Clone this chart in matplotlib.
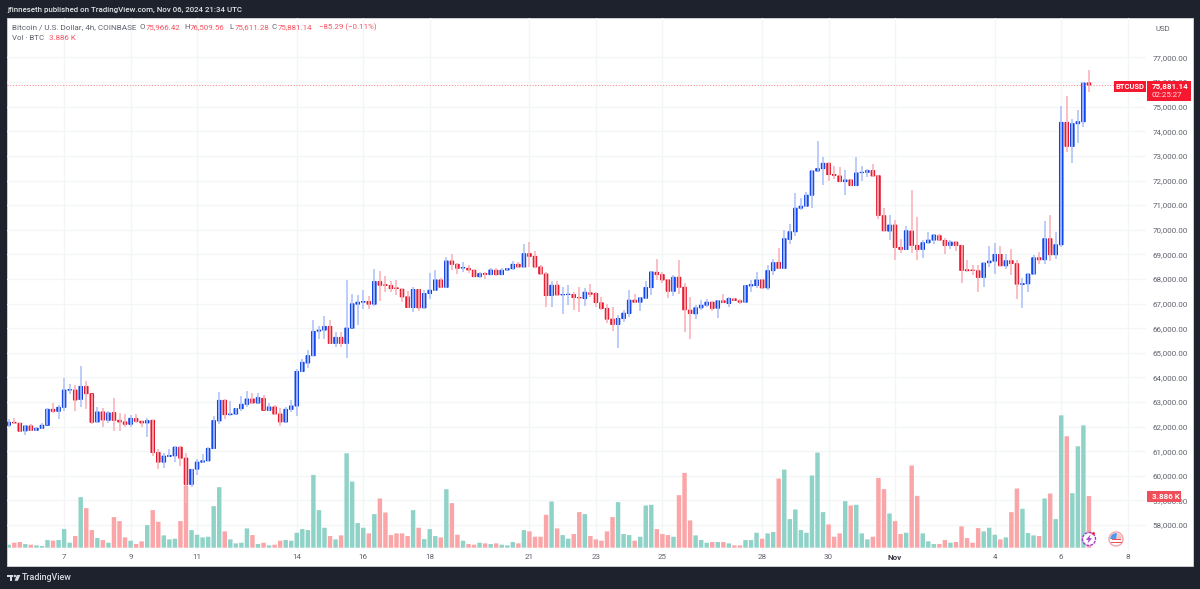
import matplotlib
matplotlib.use("Agg")
import matplotlib.pyplot as plt
from matplotlib.patches import Circle, Polygon, Rectangle, Wedge
import numpy as np

# BTCUSD 4h candles, Coinbase
opens = [
    62054, 62175, 62135, 61824, 62027, 61851, 61932, 62054, 62702, 62621,
    62783, 63485, 63485, 63107, 63633, 63336, 62189, 62594, 62256, 62567,
    62256, 62189, 62094, 62324, 62216, 62148, 62256, 60947, 60556, 60785,
    60812, 61163, 60718, 59651, 60272, 60556, 60610, 61109, 62230, 63067,
    62486, 62513, 62729, 62905, 63121, 62959, 63148, 62662, 62797, 62513,
    62189, 62702, 62837, 64241, 64585, 64882, 65881, 65922, 66070, 65382,
    65625, 65382, 66003, 66975, 67056, 67083, 66975, 67893, 67758, 67731,
    67636, 67583, 67272, 66840, 67569, 66826, 67407, 67542, 67960, 67663,
    68730, 68595, 68446, 68433, 68352, 68095, 68217, 68176, 68352, 68176,
    68365, 68419, 68595, 68487, 69027, 68919, 68487, 68203, 67326, 67744,
    67353, 67367, 67367, 67245, 67204, 67434, 67407, 67029, 66800, 66367,
    66152, 66394, 66597, 67137, 67056, 67218, 67650, 68271, 68176, 67960,
    67501, 68069, 67664, 66732, 66583, 66826, 66934, 67056, 66813, 67110,
    67002, 67191, 67110, 67056, 67717, 67731, 67960, 67636, 68338, 68676,
    68433, 69607, 69918, 70876, 70957, 71403, 72388, 72483, 72699, 72240,
    72186, 71956, 72024, 71795, 72321, 72334, 72402, 72195, 70569, 69946,
    70190, 69282, 69200, 69945, 69363, 69200, 69471, 69580, 69756, 69566,
    69363, 69498, 69363, 68374, 68360, 68333, 68062, 68658, 68726, 68997,
    68536, 68740, 68618, 67778, 67805, 68198, 68861, 68780, 69634, 68984,
    69390, 74363, 73387, 74309, 74390, 75966.42,
]
highs = [
    62297, 62364, 62162, 62081, 62108, 62000, 62135, 62743, 62972, 62891,
    63957, 63714, 63674, 64443, 63863, 63336, 62783, 62743, 62621, 63174,
    62540, 62513, 62459, 62500, 62243, 62364, 62256, 61069, 60907, 61069,
    61204, 61231, 60947, 60259, 60677, 60866, 61190, 62432, 63391, 63134,
    63053, 62770, 63242, 63445, 63377, 63350, 63269, 62972, 62891, 62743,
    62810, 63094, 64322, 64747, 65112, 66327, 66084, 66502, 66313, 65827,
    65841, 67974, 67380, 67366, 67569, 67312, 68420, 68325, 68109, 67920,
    67960, 67610, 67515, 67690, 67610, 67542, 68244, 68366, 68041, 68892,
    69000, 68662, 68703, 68581, 68419, 68284, 68284, 68446, 68446, 68460,
    68446, 68716, 68689, 69405, 69500, 69135, 68554, 68284, 67920, 67920,
    67677, 67771, 67475, 67677, 67636, 67812, 67474, 67272, 67002, 66840,
    66529, 66732, 67569, 67407, 67272, 67933, 68312, 68824, 68285, 68014,
    68176, 68770, 67839, 67272, 66934, 67164, 67204, 67096, 67137, 67393,
    67272, 67231, 67204, 67771, 67947, 68285, 68014, 68582, 68797, 69270,
    70000, 70242, 71497, 71281, 71524, 72415, 73604, 72969, 72740, 72604,
    72564, 72442, 72065, 72942, 72577, 72469, 72672, 72222, 70881, 70582,
    70379, 69634, 70149, 71626, 70515, 69580, 69905, 69797, 69810, 69675,
    69566, 69539, 69390, 68753, 68577, 68550, 68685, 69349, 69458, 69349,
    68997, 69214, 68780, 68049, 68238, 68956, 69079, 70339, 70583, 69905,
    75013, 75433, 74512, 74851, 76002, 76509.56,
]
lows = [
    62000, 62094, 61797, 61676, 61838, 61824, 61905, 62054, 62540, 62297,
    62621, 63310, 62621, 62783, 62715, 62108, 62135, 61973, 62162, 61838,
    61811, 62000, 62000, 62162, 61987, 61581, 60785, 60259, 60313, 60772,
    60569, 60380, 58895, 59557, 60043, 60529, 60596, 61082, 62108, 62324,
    62445, 62500, 62648, 62783, 62905, 62945, 62662, 62648, 62486, 62014,
    62175, 62594, 62432, 64200, 64396, 64882, 65544, 65557, 65341, 65220,
    65247, 64801, 65989, 66124, 66759, 66772, 66921, 67123, 67475, 67475,
    67340, 67070, 66813, 66651, 66705, 66813, 67178, 67515, 67650, 67636,
    68379, 68217, 68284, 68244, 68068, 68055, 68014, 68150, 68136, 68150,
    68352, 68352, 68460, 68460, 68487, 68460, 68176, 66840, 66867, 67326,
    66570, 66935, 66718, 66637, 66894, 67272, 66867, 66732, 66192, 65881,
    65179, 66260, 66462, 67029, 66691, 67204, 67339, 67947, 67839, 67245,
    67298, 67407, 65854, 65557, 66367, 66718, 66867, 66691, 66394, 67015,
    66840, 67096, 66988, 67042, 67474, 67650, 67609, 67542, 68176, 68420,
    68420, 69405, 69729, 70782, 70930, 70903, 72375, 71835, 71997, 72065,
    71929, 71430, 71768, 71781, 71997, 72132, 72159, 70420, 69932, 69566,
    68767, 69038, 69187, 69038, 68753, 68835, 69431, 69431, 69553, 69011,
    69227, 69146, 67845, 68320, 68171, 67466, 67683, 68482, 68211, 68523,
    68414, 68171, 67195, 66802, 67452, 68171, 68590, 68618, 68740, 68821,
    69282, 73157, 72723, 73523, 74187, 75611.28,
]
closes = [
    62175, 62148, 61811, 62027, 61851, 61932, 62054, 62702, 62621, 62783,
    63485, 63498, 63080, 63633, 63336, 62175, 62594, 62270, 62553, 62256,
    62189, 62094, 62337, 62216, 62148, 62243, 60947, 60556, 60799, 60826,
    61163, 60718, 59651, 60259, 60556, 60610, 61109, 62243, 63067, 62486,
    62513, 62729, 62905, 63121, 62959, 63175, 62662, 62797, 62513, 62189,
    62702, 62837, 64241, 64612, 64882, 65868, 65922, 66070, 65382, 65625,
    65382, 66003, 66988, 67056, 67083, 66975, 67893, 67745, 67745, 67610,
    67610, 67272, 66840, 67569, 66826, 67407, 67542, 67960, 67663, 68730,
    68595, 68433, 68460, 68365, 68095, 68217, 68190, 68365, 68176, 68352,
    68419, 68595, 68487, 69027, 68919, 68487, 68203, 67326, 67744, 67353,
    67367, 67380, 67245, 67232, 67461, 67380, 67042, 66800, 66367, 66152,
    66394, 66610, 67137, 67056, 67231, 67650, 68285, 68176, 67960, 67501,
    68069, 67664, 66745, 66597, 66826, 66934, 67056, 66800, 67110, 67042,
    67204, 67123, 67056, 67731, 67771, 67960, 67636, 68338, 68662, 68433,
    69635, 69918, 70876, 70957, 71403, 72388, 72483, 72699, 72240, 72213,
    71956, 72024, 71795, 72307, 72334, 72402, 72186, 70583, 69959, 70190,
    69282, 69200, 69959, 69363, 69200, 69471, 69580, 69783, 69580, 69363,
    69498, 69363, 68347, 68333, 68347, 68062, 68645, 68726, 68997, 68536,
    68740, 68631, 67791, 67805, 68198, 68861, 68780, 69634, 68984, 69390,
    74363, 73387, 74309, 74390, 75962, 75881.14,
]
volumes = [
    225, 375, 425, 275, 225, 175, 125, 575, 525, 575,
    1400, 375, 875, 3800, 2975, 1325, 725, 575, 375, 2300,
    2000, 775, 525, 275, 475, 1700, 2825, 1950, 925, 625,
    675, 2000, 4675, 1325, 975, 775, 825, 3125, 4550, 1225,
    625, 325, 375, 1450, 950, 275, 375, 175, 225, 525,
    575, 525, 1125, 1400, 1325, 5475, 2825, 1500, 875, 625,
    925, 7100, 4975, 1850, 1500, 1075, 2525, 3700, 2650, 950,
    1075, 1075, 875, 2825, 1500, 650, 1400, 875, 775, 4400,
    3350, 975, 525, 275, 225, 375, 325, 275, 325, 225,
    175, 425, 325, 1325, 1225, 825, 825, 2475, 3475, 1450,
    950, 675, 1025, 2675, 2525, 875, 625, 525, 1225, 2300,
    3425, 1025, 950, 525, 825, 3175, 3225, 1400, 1025, 950,
    825, 3950, 5625, 2050, 925, 575, 375, 425, 425, 425,
    325, 175, 175, 575, 575, 1125, 675, 1075, 1175, 5200,
    5875, 2150, 2875, 1325, 1125, 5425, 7150, 2675, 1750, 825,
    1075, 3500, 3175, 3225, 1075, 625, 825, 5250, 4400, 2575,
    2000, 1025, 1125, 6175, 3900, 1075, 475, 275, 275, 575,
    375, 425, 1600, 725, 375, 1475, 1225, 1500, 975, 625,
    775, 2675, 4450, 2925, 1100, 925, 875, 3700, 4075, 2150,
    9950, 8375, 4100, 7625, 9200, 3886,
]
day_ticks = [10, 22, 34, 52, 64, 76, 94, 106, 118, 136, 148, 160, 178, 190, 202]
day_labels = ["7", "9", "11", "14", "16", "18", "21", "23", "25", "28", "30", "Nov", "4", "6", "8"]
price_ticks = list(range(58000, 78000, 1000))
net_change = -85.29
net_change_pct = -0.11

DARK = "#1e222d"
BLUE, BLUE_EDGE, BLUE_WICK = "#1450ff", "#0b3fe0", "#b3c3fb"
RED, RED_EDGE, RED_WICK = "#f7182f", "#e0142a", "#f9b4ba"
VOL_UP, VOL_DOWN = "#8fd2c7", "#faa5a7"
TEXT = "#5f626d"
FONT = ["Roboto", "DejaVu Sans"]

plt.rcParams["font.family"] = FONT

fig = plt.figure(figsize=(12, 5.89), dpi=100, facecolor=DARK)
W, H = 1200, 589


def pane_rect(left, top, right, bottom):
    return [left / W, 1 - bottom / H, (right - left) / W, (bottom - top) / H]


# chrome layer in pixel coordinates, behind the chart
chrome = fig.add_axes([0, 0, 1, 1], zorder=0)
chrome.set_xlim(0, W)
chrome.set_ylim(H, 0)
chrome.axis("off")
chrome.add_patch(Rectangle((6.5, 17.5), 1186.5, 548, fc="white", ec="#d6d8de", lw=0.6))

pos = pane_rect(7, 18, 1146, 551)
xlim = (-0.31, 205.3)
idx = np.arange(len(opens))
is_up = np.array(closes) >= np.array(opens)

# grid and axis labels sit on the bottom axes
base = fig.add_axes(pos, zorder=1)
base.set_facecolor("none")
base.set_xlim(xlim)
base.set_ylim(56944, 78605)
for s in base.spines.values():
    s.set_visible(False)
base.set_xticks(day_ticks)
base.set_xticklabels(day_labels)
base.yaxis.tick_right()
base.set_yticks(price_ticks)
base.set_yticklabels([f"{p:,.2f}" for p in price_ticks])
base.tick_params(axis="y", length=0, pad=4.5, labelsize=5.8, labelcolor=TEXT)
base.tick_params(axis="x", length=0, pad=2.5, labelsize=5.8, labelcolor=TEXT)
base.get_xticklabels()[day_labels.index("Nov")].set_color("#3a3d47")
base.get_xticklabels()[day_labels.index("Nov")].set_fontweight("bold")
base.grid(True, color="#f4f5f6", lw=1.0)
base.set_axisbelow(True)

# volume histogram shares the pane, scaled so it stays in the lower quarter
vol_ax = fig.add_axes(pos, zorder=2)
vol_ax.set_facecolor("none")
vol_ax.set_xlim(xlim)
vol_ax.set_ylim(-248, 39833)
vol_ax.axis("off")
vol_bars = vol_ax.bar(idx, volumes, width=0.8, color=[VOL_UP if u else VOL_DOWN for u in is_up], lw=0)
for b in vol_bars:
    b.set_snap(False)

# candles
ax = fig.add_axes(pos, zorder=3)
ax.set_facecolor("none")
ax.set_xlim(xlim)
ax.set_ylim(56944, 78605)
ax.axis("off")
ax.vlines(idx, lows, highs, colors=[BLUE_WICK if u else RED_WICK for u in is_up], lw=1.2)
body_low = np.minimum(opens, closes)
body_h = np.abs(np.array(closes) - np.array(opens))
bodies = ax.bar(idx, body_h, bottom=body_low, width=0.64,
                color=[BLUE if u else RED for u in is_up],
                edgecolor=[BLUE_EDGE if u else RED_EDGE for u in is_up], lw=0.7)
for b in bodies:
    b.set_snap(False)
ax.axhline(closes[-1], color="#fa8f99", lw=0.8, ls=(0, (1, 1.5)), xmax=(1114 - 7) / (1146 - 7))

# overlay for labels and badges
top = fig.add_axes([0, 0, 1, 1], zorder=4)
top.set_facecolor("none")
top.set_xlim(0, W)
top.set_ylim(H, 0)
top.axis("off")


def put(x, y, s, color=TEXT, size=5.7, **kw):
    top.text(x, y, s, color=color, fontsize=size, va="center", ha=kw.pop("ha", "left"), **kw)


put(7, 9.5, "jfinneseth published on TradingView.com, Nov 06, 2024 21:34 UTC",
    color="#e4e6ea", size=5.7, fontweight="medium")

# status line
LEGEND_RED = "#f7525f"
put(12, 27, "Bitcoin / U.S. Dollar, 4h, COINBASE", size=5.9)
ohlc = [("O", opens[-1], 140), ("H", highs[-1], 184), ("L", lows[-1], 229), ("C", closes[-1], 272)]
for name, val, x in ohlc:
    put(x, 27, name)
    put(x + 5.4, 27, f"{val:,.2f}", color=LEGEND_RED)
put(319, 27, f"\u2212{abs(net_change):.2f} (\u2212{abs(net_change_pct):.2f}%)", color=LEGEND_RED)
put(12, 38, "Vol \u00b7 BTC")
put(49, 38, f"{volumes[-1] / 1000:.3f} K", color=LEGEND_RED)
put(1155, 29, "USD", color=TEXT, size=5.7)

# last price tags
top.add_patch(Rectangle((1114, 81), 32, 11, fc="#f5182e", ec="none"))
put(1130, 86.5, "BTCUSD", color="white", size=5.5, ha="center", fontweight="bold")
top.add_patch(Rectangle((1147, 81), 43.5, 20, fc="#f5182e", ec="none"))
put(1152, 86.3, f"{closes[-1]:,.2f}", color="white", size=5.8, fontweight="bold")
put(1152, 95.3, "02:25:27", color="#fde3e5", size=5.7)
top.add_patch(Rectangle((1147, 491), 34, 10.7, fc="#ef4f58", ec="none"))
put(1152, 496.3, f"{volumes[-1] / 1000:.3f} K", color="white", size=5.8, fontweight="bold")

# event badges along the time axis
top.add_patch(Circle((1089, 539), 6.5, fc="white", ec="#a63bc9", lw=1.0, ls=(0, (2.2, 0.7))))
top.add_patch(Polygon([(1090.5, 534.5), (1086, 539.8), (1088.6, 539.8), (1087.5, 543.5),
                       (1092, 538.2), (1089.4, 538.2)], fc="#a63bc9", ec="none"))
top.add_patch(Circle((1093.5, 533.5), 1.4, fc="#f5182e", ec="none"))

top.add_patch(Circle((1116, 539), 7, fc="white", ec="#f7a2a8", lw=1.0))
top.add_patch(Wedge((1116, 539), 5.8, 180, 360, fc="#f9c6ca", ec="none"))
top.add_patch(Rectangle((1110.5, 541.8), 11, 1.1, fc="#f0515c", ec="none"))
top.add_patch(Rectangle((1111.5, 538.9), 9.5, 1.0, fc="#f0515c", ec="none"))
top.add_patch(Wedge((1116, 539), 5.8, 180, 280, fc="#4f9be8", ec="none"))

# footer mark
LOGO = "#d8dbe2"
top.add_patch(Rectangle((7, 575), 6, 2.2, fc=LOGO, ec="none"))
top.add_patch(Rectangle((9.8, 575), 2.4, 5.8, fc=LOGO, ec="none"))
top.add_patch(Circle((14.8, 576), 1.2, fc=LOGO, ec="none"))
top.add_patch(Polygon([(16.8, 575), (20.3, 575), (17.8, 580.8), (14.6, 580.8)], fc=LOGO, ec="none"))
put(22, 577.5, "TradingView", color=LOGO, size=6.4, fontweight="medium")

fig.savefig("out.png", dpi=100, facecolor=DARK)
